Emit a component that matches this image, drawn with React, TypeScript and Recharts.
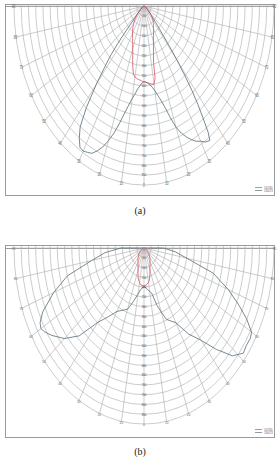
import React from 'react';
import { RadarChart, Radar, PolarGrid, PolarAngleAxis, PolarRadiusAxis } from 'recharts';

// angle ticks of the half-circle grid (degrees from nadir)
const ANGLE_TICKS = [-90, -80, -70, -60, -50, -40, -30, -20, -10, 0, 10, 20, 30, 40, 50, 60, 70, 80, 90];
const RING_TICKS = [0, 50, 100, 150, 200, 250, 300, 350, 400, 450, 500, 550, 600, 650, 700, 750, 800, 850, 900];

const SERIES_NAMES = ['C0/180', 'C90/270'];

// (a)
const ANGLES_A = [
  -90, -80, -70, -60, -55, -50, -47, -45, -44, -43,
  -42, -40, -38, -36, -34, -32, -30, -28, -26, -24,
  -22, -20, -18, -16, -14, -12, -10, -8, -6, -4,
  -2, 0, 2, 4, 6, 8, 10, 12, 13, 14,
  16, 18, 20, 22, 24, 26, 28, 30, 32, 34,
  35, 36, 37, 38, 39, 40, 41, 42, 44, 47,
  50, 55, 60, 70, 80, 90,
];
const C0_A = [
  0, 0, 5, 9, 27, 54, 68, 81, 86, 90,
  99, 108, 117, 131, 140, 149, 157, 171, 180, 194,
  209, 229, 252, 284, 320, 351, 362, 367, 371, 374,
  378, 380, 383, 387, 392, 396, 399, 369, 297, 270,
  239, 212, 192, 176, 162, 149, 140, 131, 124, 117,
  114, 111, 108, 105, 103, 99, 95, 90, 81, 68,
  50, 36, 23, 9, 0, 0,
];
const C90_A = [
  0, 5, 9, 18, 27, 45, 90, 171, 261, 333,
  387, 513, 648, 752, 801, 837, 842, 833, 824, 797,
  765, 720, 671, 612, 554, 509, 473, 446, 419, 401,
  387, 381, 383, 389, 399, 412, 432, 459, 473, 491,
  531, 590, 648, 689, 720, 747, 770, 785, 806, 815,
  774, 693, 621, 540, 450, 360, 270, 198, 126, 72,
  45, 27, 18, 9, 5, 0,
];

// (b)
const ANGLES_B = [
  -90, -85, -80, -75, -70, -65, -62, -60, -58, -55,
  -50, -45, -40, -35, -30, -25, -20, -15, -10, -6,
  -2, 0, 2, 6, 10, 13, 17, 20, 23, 26,
  30, 35, 40, 44, 48, 52, 55, 58, 60, 63,
  66, 70, 75, 80, 85, 90,
];
const C0_B = [
  0, 0, 0, 5, 9, 14, 18, 18, 23, 32,
  45, 54, 63, 72, 83, 98, 121, 158, 180, 191,
  195, 195, 194, 185, 180, 167, 140, 121, 106, 95,
  83, 72, 63, 54, 45, 36, 32, 23, 18, 14,
  9, 7, 5, 0, 0, 0,
];
const C90_B = [
  162, 270, 369, 549, 666, 774, 815, 824, 810, 779,
  720, 635, 495, 428, 374, 351, 333, 283, 239, 212,
  202, 200, 201, 212, 225, 237, 306, 347, 396, 414,
  441, 536, 617, 720, 824, 873, 866, 869, 860, 797,
  720, 621, 495, 302, 216, 135,
];

const GRID = '#b0b0b0';
const RED = '#d24c5a';
const SLATE = '#5a707e';

const toRows = (angles: number[], c0: number[], c90: number[]) =>
  angles.map((angle, i) => ({ angle, c0: c0[i], c90: c90[i] }));

const AngleTick = (props: any) => (
  <text x={props.x} y={props.y} dy="0.35em" textAnchor="middle" fontSize={3.2} fill="#666" fontFamily="Arial">
    {Math.abs(props.payload.value)}
  </text>
);

// ring values sit on the nadir line; the outermost one is left to the "0" angle label
const RingTick = (props: any) =>
  props.payload.value === 0 || props.payload.value === 900 ? <g /> : (
    <text x={props.x} y={props.y} dy="0.35em" textAnchor="middle" fontSize={2.8} fill="#444" fontFamily="Arial">
      {props.payload.value}
    </text>
  );

const CY = 1.5;

function Polar({ rows, originY, stretch }: { rows: any[]; originY: number; stretch: number }) {
  return (
    <div
      style={{
        position: 'absolute', left: 5, top: originY - CY * stretch, width: 273, height: 142,
        transform: `scaleY(${stretch})`, transformOrigin: '0 0',
      }}
    >
      <RadarChart
        width={273} height={142} data={rows} cx={139} cy={CY} outerRadius={130}
        startAngle={180} endAngle={360} margin={{ top: 0, right: 0, bottom: 0, left: 0 }}
      >
        <PolarGrid gridType="circle" stroke={GRID} strokeWidth={0.55} />
        <PolarAngleAxis
          dataKey="angle" type="number" domain={[-90, 90]} ticks={ANGLE_TICKS}
          tick={AngleTick} tickLine={false} axisLine={false} tickSize={0.5}
        />
        <PolarRadiusAxis
          angle={270} type="number" domain={[0, 900]} ticks={RING_TICKS}
          tick={RingTick} axisLine={false} tickLine={false}
        />
        <Radar name={SERIES_NAMES[1]} dataKey="c90" stroke={SLATE} fill="none" strokeWidth={0.7} dot={false} isAnimationActive={false} />
        <Radar name={SERIES_NAMES[0]} dataKey="c0" stroke={RED} fill="none" strokeWidth={0.65} dot={false} isAnimationActive={false} />
      </RadarChart>
    </div>
  );
}

function Panel({ rows, boxTop, boxHeight, originY, stretch, caption, captionTop }: any) {
  return (
    <>
      <div style={{ position: 'absolute', left: 5, top: boxTop, width: 270, height: boxHeight, border: '1px solid #9a9a9a', boxSizing: 'border-box' }} />
      <div style={{ position: 'absolute', left: 6, top: originY, width: 268, height: 0, borderTop: '0.7px solid #9a9a9a' }} />
      <Polar rows={rows} originY={originY} stretch={stretch} />
      <svg style={{ position: 'absolute', left: 254, top: boxTop + boxHeight - 11 }} width={19} height={8}>
        <line x1={1} x2={8} y1={2.5} y2={2.5} stroke={RED} strokeWidth={0.7} />
        <line x1={1} x2={8} y1={5.5} y2={5.5} stroke={SLATE} strokeWidth={0.7} />
        <text x={10} y={3.5} fontSize={2.6} fill="#555" fontFamily="Arial">{SERIES_NAMES[0]}</text>
        <text x={10} y={6.5} fontSize={2.6} fill="#555" fontFamily="Arial">{SERIES_NAMES[1]}</text>
      </svg>
      <div style={{ position: 'absolute', left: 0, width: 280, top: captionTop, textAlign: 'center', fontFamily: '"Liberation Serif", serif', fontSize: 10, lineHeight: '10px', color: '#222' }}>
        {caption}
      </div>
    </>
  );
}

export default function App() {
  return (
    <div style={{ position: 'absolute', left: 0, top: 0, width: 278, height: 466, background: '#fff' }}>
      <Panel rows={toRows(ANGLES_A, C0_A, C90_A)} boxTop={4} boxHeight={192} originY={6} stretch={1.377} caption="(a)" captionTop={206} />
      <Panel rows={toRows(ANGLES_B, C0_B, C90_B)} boxTop={245} boxHeight={193} originY={248} stretch={1.354} caption="(b)" captionTop={447} />
    </div>
  );
}
